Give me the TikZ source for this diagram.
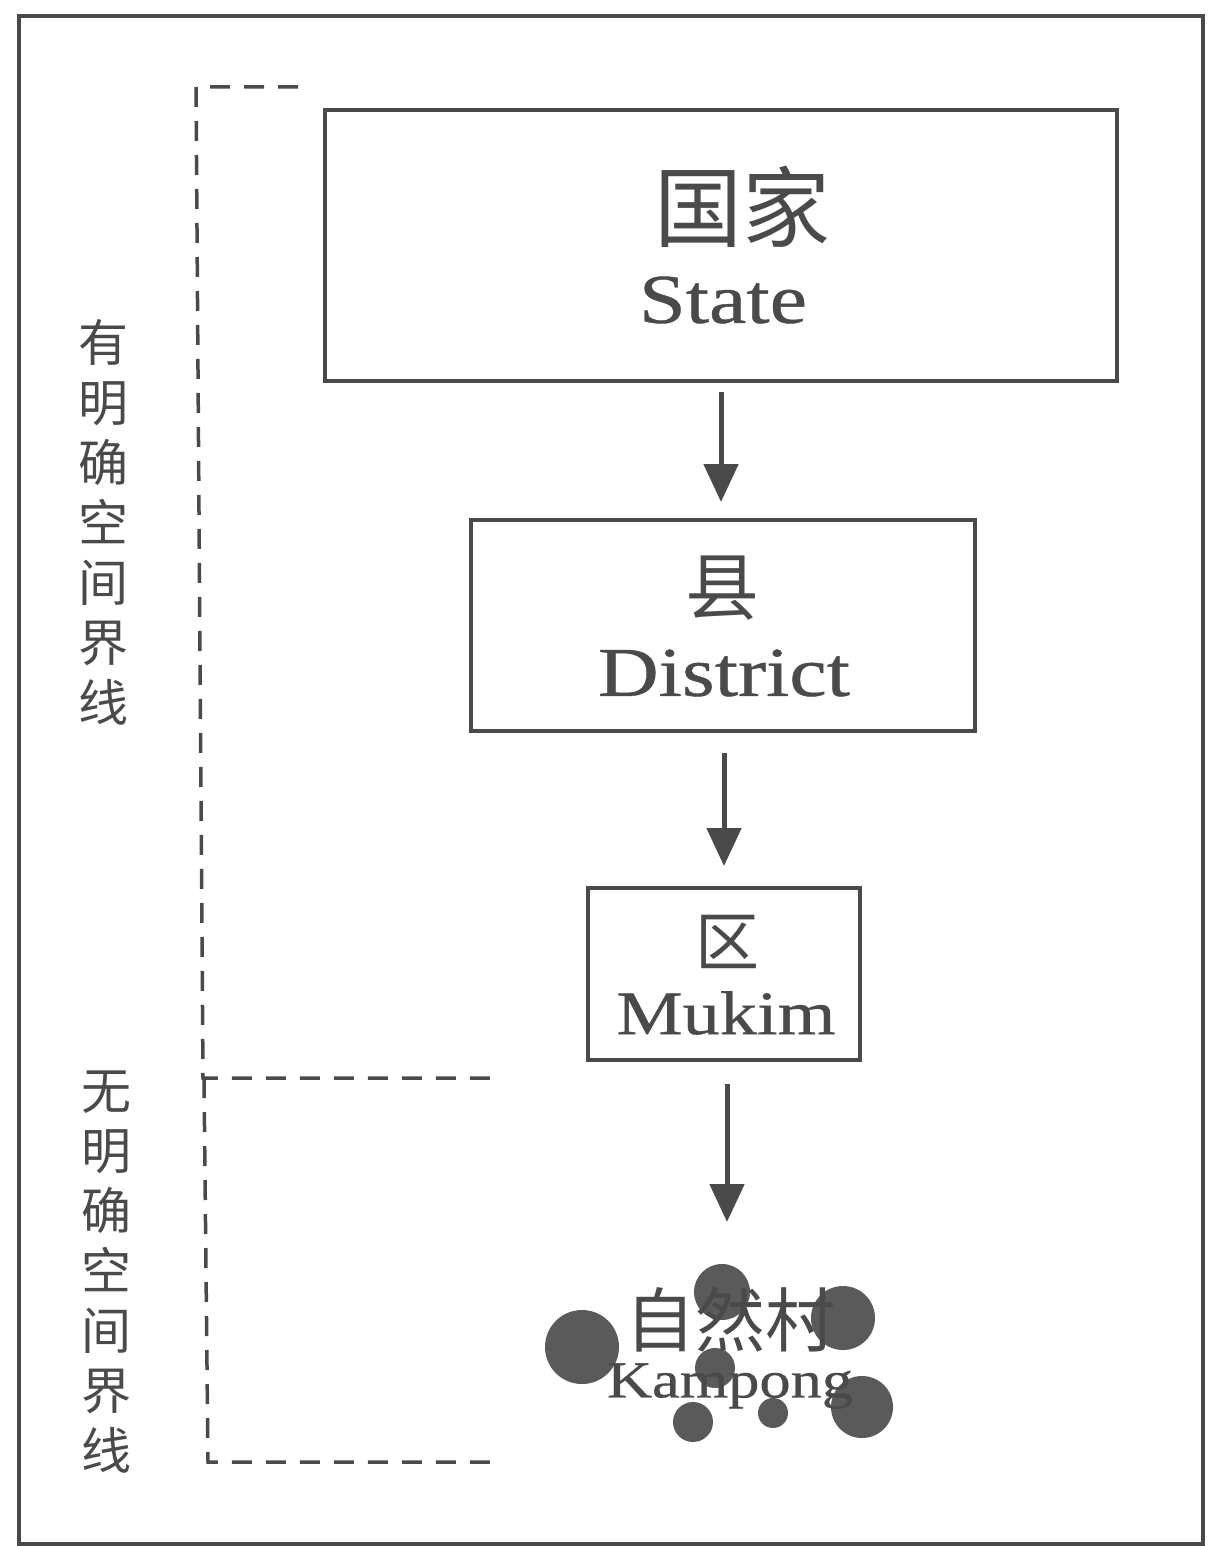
\documentclass[tikz,border=0pt]{standalone}
\usepackage{fontspec}
\setmainfont{Liberation Serif}
\newfontfamily\wideserif[FakeStretch=1.2,FakeBold=0.6]{Liberation Serif}
\newfontfamily\cjk{Noto Sans CJK SC}
\usetikzlibrary{arrows.meta}
\definecolor{ink}{HTML}{4A4A4A}
\definecolor{dot}{HTML}{5A5A5A}
\tikzset{
  frame/.style={draw=ink, line width=4pt},
  levelbox/.style={draw=ink, line width=3.5pt, inner sep=0pt, text=ink, align=center},
  flow/.style={draw=ink, line width=5pt, -{Triangle[length=38pt,width=34pt]}},
  bracket/.style={draw=ink, line width=3.5pt, dash pattern=on 20pt off 14pt},
  sidetext/.style={text=ink, align=center, font=\cjk\fontsize{50}{60}\selectfont},
  village/.style={fill=dot, draw=none}
}
\begin{document}
\begin{tikzpicture}[x=1pt,y=-1pt]
\useasboundingbox (0,0) rectangle (1207,1546);
\fill[white] (0,0) rectangle (1207,1546);
% outer frame
\draw[frame] (19,16) rectangle (1203,1544);
% level boxes
\node[levelbox, minimum width=792pt, minimum height=271pt] (state) at (721,245.5) {};
\node[text=ink, font=\cjk\fontsize{88}{90}\selectfont] (stateCN) at (742,207) {国家};
\node[text=ink, font=\wideserif\fontsize{70}{72}\selectfont] (stateEN) at (723,300) {State};
\node[levelbox, minimum width=504pt, minimum height=211pt] (district) at (723,625.5) {};
\node[text=ink, font=\cjk\fontsize{74}{76}\selectfont] (districtCN) at (722,588) {县};
\node[text=ink, font=\wideserif\fontsize{70}{72}\selectfont] (districtEN) at (724,673) {District};
\node[levelbox, minimum width=272pt, minimum height=172pt] (mukim) at (724,974) {};
\node[text=ink, font=\cjk\fontsize{64}{66}\selectfont] (mukimCN) at (727,942) {区};
\node[text=ink, font=\wideserif\fontsize{62}{64}\selectfont] (mukimEN) at (726,1013) {Mukim};
% kampong circles
\fill[village] (582,1347) circle (37);
\fill[village] (722,1292) circle (28);
\fill[village] (843,1318) circle (32);
\fill[village] (715,1368) circle (20);
\fill[village] (693,1422) circle (20);
\fill[village] (773,1413) circle (15);
\fill[village] (862,1407) circle (31);
\node[text=ink, font=\cjk\fontsize{70}{72}\selectfont] (kampongCN) at (730,1320) {自然村};
\node[text=ink, font=\wideserif\fontsize{52}{54}\selectfont] (kampongEN) at (730,1386) {Kampong};
\coordinate (kampongTop) at (727,1222);
% arrows
\draw[flow] (state.south -| 721,0) ++(0,9) coordinate (a1) -- (721,502);
\draw[flow] (district.south -| 724,0) ++(0,20) coordinate (a2) -- (724,866);
\draw[flow] (mukim.south -| 727,0) ++(0,22) coordinate (a3) -- (kampongTop);
% dashed brackets
\draw[bracket] (298,87) -- (196,87) -- (203,1078) -- (498,1078);
\draw[bracket] (204,1078) -- (208,1462) -- (500,1462);
% side labels
\node[sidetext] (defined) at (103,522) {有\\明\\确\\空\\间\\界\\线};
\node[sidetext] (undefined) at (106,1272) {无\\明\\确\\空\\间\\界\\线};
\end{tikzpicture}
\end{document}
